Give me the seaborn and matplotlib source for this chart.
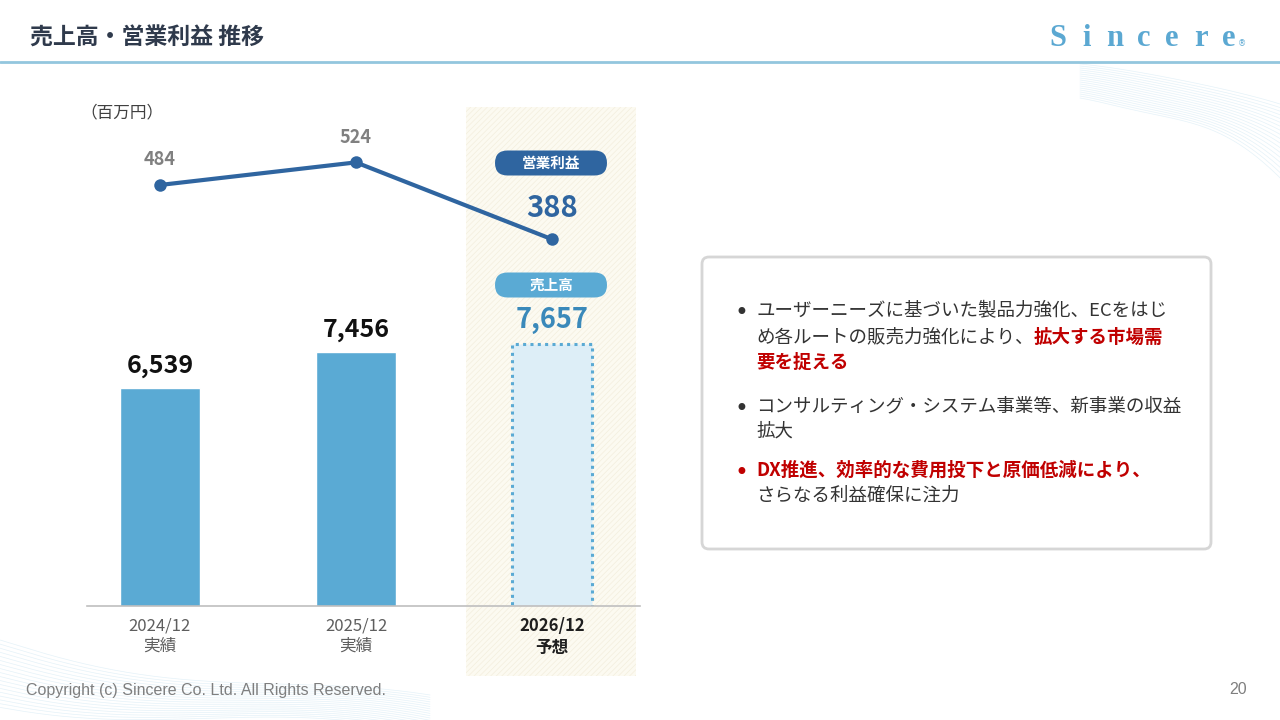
#------------------------ 売上高・営業利益 推移 ------------------------
import numpy as np
import pandas as pd
import matplotlib
matplotlib.use("Agg")
import matplotlib.pyplot as plt
import seaborn as sns
from matplotlib.patches import Rectangle, FancyBboxPatch
from matplotlib.lines import Line2D
from matplotlib.transforms import IdentityTransform

# data
periods = ["2024/12", "2025/12", "2026/12"]
period_notes = ["実績", "実績", "予想"]
sales = [6539, 7456, 7657]
profit = [484, 524, 388]
unit_label = "（百万円）"
title = "売上高・営業利益 推移"

# colours
BAR = "#5AAAD4"
BAR_FC = "#DDEEF7"
LINE = "#2F65A0"
DARK = "#333333"
RED = "#C00000"
GRAY = "#7F7F7F"

sns.set_theme(style="white")
plt.rcParams["font.family"] = ["Noto Sans CJK JP", "DejaVu Sans"]
plt.rcParams["hatch.linewidth"] = 0.5

W, H = 1280, 720
fig = plt.figure(figsize=(12.8, 7.2), dpi=100)
fig.patch.set_facecolor("white")


def fx(px):
    return px / W


def fy(py):
    return 1 - py / H


# decorative waves (top right / bottom left)
for k in range(18):
    xs = np.linspace(1080, 1280, 120)
    t = (xs - 1080) / 200
    ys = 64 + k * 2.0 + (40 + k * 2.5) * t ** 2 + 6 * np.sin(t * np.pi * (1 + k * 0.05))
    fig.add_artist(Line2D(fx(xs), fy(ys), transform=fig.transFigure,
                          color="#A8D3E8", lw=0.5, alpha=0.3, zorder=-10))
for k in range(18):
    xs = np.linspace(0, 430, 160)
    t = xs / 430
    ys = 640 + k * 2.3 + 45 * np.sin(t * np.pi * 0.9 + k * 0.04) * (1 - t) + 55 * t ** 1.5
    fig.add_artist(Line2D(fx(xs), fy(ys), transform=fig.transFigure,
                          color="#A8D3E8", lw=0.5, alpha=0.3, zorder=-10))

# header
fig.text(fx(30), fy(38), title, fontsize=16.5, fontweight="bold", color="#2F3A4C",
         ha="left", va="center")
fig.add_artist(Line2D([0, 1], [fy(62), fy(62)], transform=fig.transFigure,
                      color="#93C6DE", lw=2))
for i, ch in enumerate("Sincere"):
    fig.text(fx(1058 + i * 28.5), fy(39), ch, fontsize=22, fontweight="bold",
             family="Liberation Serif", color="#5BA8D2", ha="center", va="center")
fig.text(fx(1238), fy(44), "®", fontsize=6, color="#5BA8D2", ha="left", va="center",
         family="DejaVu Sans")

# forecast highlight column
fig.add_artist(Rectangle((fx(466), fy(676)), fx(636 - 466), (676 - 107) / H,
                         transform=fig.transFigure, facecolor="#FCFAF1",
                         edgecolor="#F3EEDD", hatch="//////", lw=0, zorder=-5))

# chart axes
ax = fig.add_axes([fx(87), 114 / H, fx(553), 499 / H])
ax.patch.set_alpha(0)
df = pd.DataFrame({"period": periods, "sales": sales})
sns.barplot(data=df, x="period", y="sales", hue="period", palette=[BAR] * 3,
            legend=False, width=0.41, saturation=1, ax=ax)
fc = ax.patches[2]
fc.set_facecolor(BAR_FC)
fc.set_edgecolor(BAR)
fc.set_linestyle((0, (1, 1.4)))
fc.set_linewidth(2.2)
ax.set_xlim(-0.372, 2.449)
ax.set_ylim(986, 13696)
ax.set_yticks([])
ax.set_xlabel("")
ax.set_ylabel("")
for s in ["top", "right", "left"]:
    ax.spines[s].set_visible(False)
ax.spines["bottom"].set_color("#BFBFBF")
ax.spines["bottom"].set_linewidth(1.2)
ax.set_xticks(range(len(periods)))
ax.set_xticklabels([f"{p}\n{n}" for p, n in zip(periods, period_notes)],
                   fontsize=12, color="#5E5E5E", linespacing=1.3)
ax.tick_params(axis="x", length=0, pad=8)
lab = ax.get_xticklabels()[2]
lab.set_fontweight("bold")
lab.set_color("#1F1F1F")

for i, v in enumerate(sales):
    if i < 2:
        ax.annotate(f"{v:,}", (i, v), xytext=(0, 16), textcoords="offset points",
                    ha="center", va="center", fontsize=18, fontweight="bold",
                    color="#111111")
    else:
        ax.annotate(f"{v:,}", (i, v), xytext=(0, 17.5), textcoords="offset points",
                    ha="center", va="center", fontsize=19.5, fontweight="bold",
                    color="#3A89BA")

# operating profit line
ax2 = ax.twinx()
ax2.set_position(ax.get_position())
sns.lineplot(x=np.arange(len(profit)), y=profit, ax=ax2, color=LINE, lw=3,
             marker="o", markersize=9, markeredgewidth=0)
ax2.set_ylim(-261, 622)
ax2.set_yticks([])
ax2.set_ylabel("")
for s in ax2.spines.values():
    s.set_visible(False)
for i, v in enumerate(profit):
    if i < 2:
        ax2.annotate(f"{v:,}", (i, v), xytext=(0, 18), textcoords="offset points",
                     ha="center", va="center", fontsize=13, fontweight="bold",
                     color="#808080")
    else:
        ax2.annotate(f"{v:,}", (i, v), xytext=(0, 22.5), textcoords="offset points",
                     ha="center", va="center", fontsize=21, fontweight="bold",
                     color=LINE)

# badges (pixel coordinates)
for cy, txt, col in [(163, "営業利益", LINE), (285, "売上高", BAR)]:
    fig.add_artist(FancyBboxPatch((495, H - cy - 12.5), 112, 25,
                                  boxstyle="round,pad=0,rounding_size=12.5",
                                  transform=IdentityTransform(), facecolor=col,
                                  edgecolor="none", zorder=3))
    fig.text(fx(551), fy(cy), txt, fontsize=10.5, fontweight="bold", color="white",
             ha="center", va="center", zorder=4)

fig.text(fx(80), fy(113), unit_label, fontsize=12, color="#404040",
         ha="left", va="center")

# commentary box
fig.add_artist(FancyBboxPatch((702, H - 549), 509, 549 - 257,
                              boxstyle="round,pad=0,rounding_size=7",
                              transform=IdentityTransform(), facecolor="white",
                              edgecolor="#D6D6D6", lw=2))

TX = 756
fs = 13.3
lines = [
    (310, "ユーザーニーズに基づいた製品力強化、ECをはじ", DARK, "normal", DARK),
    (337, "め各ルートの販売力強化により、", DARK, "normal", None),
    (362, "要を捉える", RED, "bold", None),
    (406, "コンサルティング・システム事業等、新事業の収益", DARK, "normal", DARK),
    (432, "拡大", DARK, "normal", None),
    (470, "DX推進、効率的な費用投下と原価低減により、", RED, "bold", RED),
    (496, "さらなる利益確保に注力", DARK, "normal", None),
]
line2 = None
for y, txt, col, wt, bullet in lines:
    if bullet:
        fig.text(fx(734), fy(y + 3), "•", fontsize=17, color=bullet, ha="left",
                 va="center", family="DejaVu Sans")
    t = fig.text(fx(TX), fy(y), txt, fontsize=fs, color=col, fontweight=wt,
                 ha="left", va="center")
    if y == 337:
        line2 = t

# red continuation of the second line
fig.canvas.draw()
bb = line2.get_window_extent()
fig.text(bb.x1 / W, fy(337), "拡大する市場需", fontsize=fs, color=RED,
         fontweight="bold", ha="left", va="center")

# footer
fig.text(fx(26), fy(690), "Copyright (c) Sincere Co. Ltd. All Rights Reserved.",
         fontsize=11.5, family="Liberation Sans", color=GRAY, ha="left", va="center")
fig.text(fx(1247), fy(690), "20", fontsize=11.5, family="Liberation Sans",
         color=GRAY, ha="right", va="center")

fig.savefig("out.png", dpi=100)
